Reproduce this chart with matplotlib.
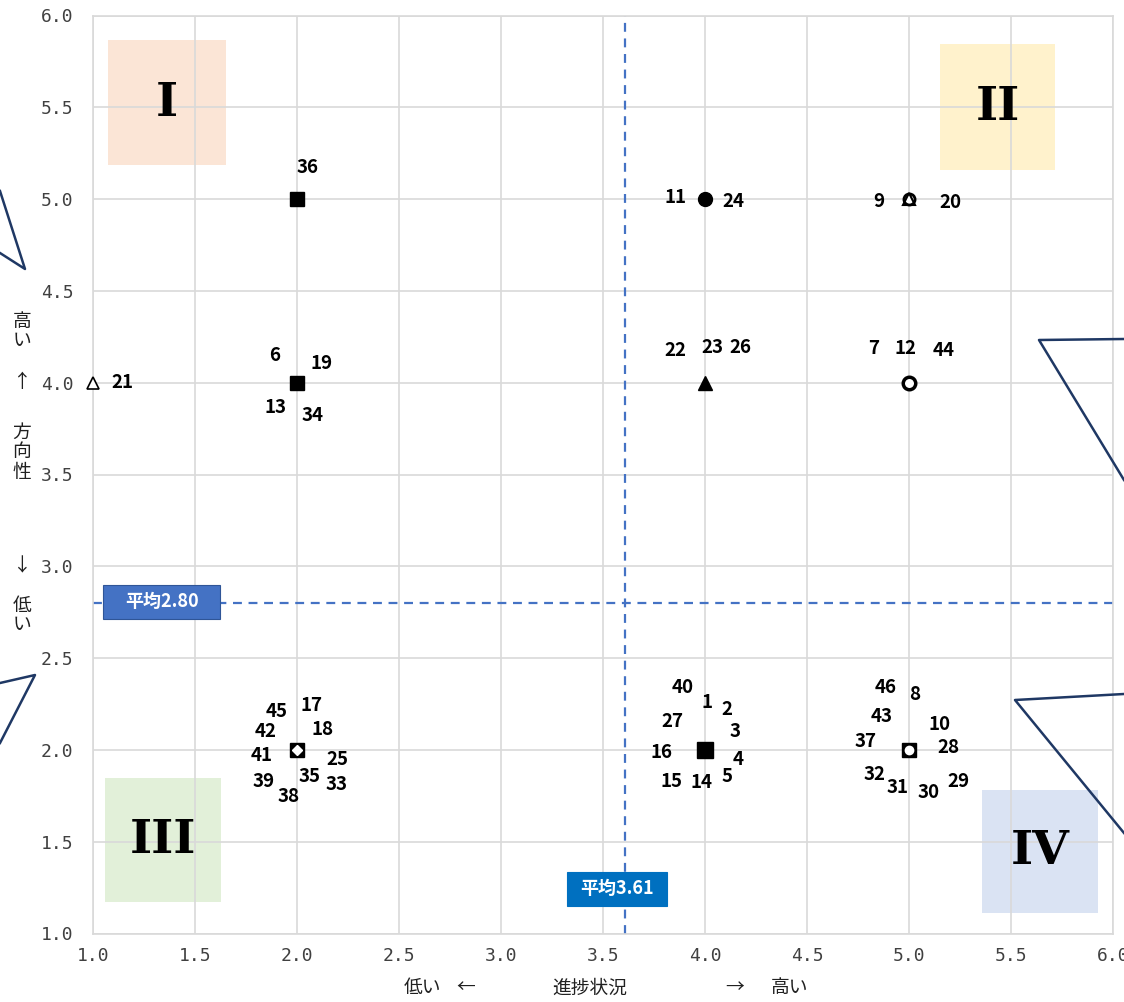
import matplotlib
matplotlib.use("Agg")
import matplotlib.pyplot as plt
from matplotlib.patches import Rectangle
from matplotlib.lines import Line2D

plt.rcParams['font.family'] = ['Noto Sans CJK JP', 'DejaVu Sans']

# --------------- データ ---------------
ids = [36, 6, 19, 13, 34, 21, 11, 24, 9, 20, 22, 23, 26, 7, 12, 44,
       45, 17, 42, 18, 41, 25, 39, 35, 33, 38,
       40, 1, 2, 27, 3, 16, 4, 15, 14, 5,
       46, 8, 43, 10, 37, 28, 32, 31, 30, 29]
progress = [2, 2, 2, 2, 2, 1, 4, 4, 5, 5, 4, 4, 4, 5, 5, 5,
            2, 2, 2, 2, 2, 2, 2, 2, 2, 2,
            4, 4, 4, 4, 4, 4, 4, 4, 4, 4,
            5, 5, 5, 5, 5, 5, 5, 5, 5, 5]
direction = [5, 4, 4, 4, 4, 4, 5, 5, 5, 5, 4, 4, 4, 4, 4, 4,
             2, 2, 2, 2, 2, 2, 2, 2, 2, 2,
             2, 2, 2, 2, 2, 2, 2, 2, 2, 2,
             2, 2, 2, 2, 2, 2, 2, 2, 2, 2]
mean_x = 3.61
mean_y = 2.80
x_ticks = [1.0, 1.5, 2.0, 2.5, 3.0, 3.5, 4.0, 4.5, 5.0, 5.5, 6.0]
y_ticks = [1.0, 1.5, 2.0, 2.5, 3.0, 3.5, 4.0, 4.5, 5.0, 5.5, 6.0]

# ラベル位置（点からのピクセルオフセット）
label_offsets = {
    36: (11, -32), 6: (-22, -27), 19: (25, -19), 13: (-22, 25), 34: (16, 33),
    21: (29, 0), 11: (-29, -2), 24: (28, 2), 9: (-30, 2), 20: (41, 3),
    22: (-30, -32), 23: (7, -35), 26: (35, -35),
    7: (-35, -34), 12: (-4, -34), 44: (35, -32),
    45: (-20, -38), 17: (15, -44), 42: (-31, -18), 18: (26, -20), 41: (-35, 6),
    25: (40, 10), 39: (-33, 32), 35: (13, 27), 33: (40, 35), 38: (-8, 47),
    40: (-22, -62), 1: (2, -47), 2: (22, -40), 27: (-33, -28), 3: (30, -18),
    16: (-43, 3), 4: (33, 10), 15: (-34, 32), 14: (-3, 33), 5: (22, 27),
    46: (-23, -62), 8: (6, -55), 43: (-27, -33), 10: (31, -25), 37: (-43, -8),
    28: (39, -2), 32: (-34, 25), 31: (-11, 38), 30: (20, 43), 29: (49, 32),
}

# マーカー（重なった点の見た目）
marker_styles = {
    (2, 5): [dict(marker="s", ms=10, mfc="black", mec="black")],
    (2, 4): [dict(marker="s", ms=10, mfc="black", mec="black")],
    (1, 4): [dict(marker="^", ms=9, mfc="white", mec="black", mew=1.2)],
    (4, 5): [dict(marker="o", ms=10, mfc="black", mec="black")],
    (5, 5): [dict(marker="o", ms=8, mfc="white", mec="black", mew=2),
             dict(marker="^", ms=8, mfc="none", mec="black", mew=1.5)],
    (4, 4): [dict(marker="^", ms=10, mfc="black", mec="black")],
    (5, 4): [dict(marker="o", ms=9, mfc="white", mec="black", mew=2.5)],
    (2, 2): [dict(marker="s", ms=10, mfc="black", mec="black"),
             dict(marker="D", ms=5, mfc="white", mec="white")],
    (4, 2): [dict(marker="s", ms=11, mfc="black", mec="black")],
    (5, 2): [dict(marker="s", ms=10, mfc="black", mec="black"),
             dict(marker="o", ms=6, mfc="white", mec="white")],
}

W, H = 1124, 1002
fig = plt.figure(figsize=(W / 100, H / 100), dpi=100)
ax = fig.add_axes([93 / W, 1 - 933.5 / H, 1020 / W, 918 / H])

ax.set_xlim(1.0, 6.0)
ax.set_ylim(1.0, 6.0)
ax.set_xticks(x_ticks)
ax.set_yticks(y_ticks)
ax.set_xticklabels(["%.1f" % v for v in x_ticks], family="DejaVu Sans Mono",
                   fontsize=13, color="#404040")
ax.set_yticklabels(["%.1f" % v for v in y_ticks], family="DejaVu Sans Mono",
                   fontsize=13, color="#404040")
ax.tick_params(axis="x", length=0, pad=10)
ax.tick_params(axis="y", length=0, pad=14)
ax.grid(color="#D9D9D9", linewidth=1.2)
ax.set_axisbelow(True)
for s in ax.spines.values():
    s.set_color("#D9D9D9")
    s.set_linewidth(1.2)

# 象限ボックス
quad = [("I", 1.074, 5.185, 0.578, 0.681, "#FBE5D6"),
        ("II", 5.152, 5.158, 0.564, 0.687, "#FFF2CC"),
        ("III", 1.059, 1.172, 0.568, 0.676, "#E2F0D9"),
        ("IV", 5.358, 1.112, 0.568, 0.671, "#DAE3F3")]
for name, qx, qy, qw, qh, qc in quad:
    ax.add_patch(Rectangle((qx, qy), qw, qh, facecolor=qc, edgecolor="none", zorder=0.5))
    ax.text(qx + qw / 2, qy + qh / 2, name, family="DejaVu Serif", weight="heavy",
            fontsize=34, ha="center", va="center", zorder=1)

# 平均線
ax.axvline(mean_x, color="#4472C4", linestyle=(0, (4, 3)), linewidth=1.6, zorder=2)
ax.axhline(mean_y, color="#4472C4", linestyle=(0, (4, 3)), linewidth=1.6, zorder=2)

ax.add_patch(Rectangle((1.049, 2.714), 0.574, 0.185, facecolor="#4472C4",
                       edgecolor="#2F5597", lw=0.8, zorder=3))
ax.text(1.336, 2.806, "平均%.2f" % mean_y, color="white", weight="bold", fontsize=13,
        ha="center", va="center", zorder=3.5)
ax.add_patch(Rectangle((3.324, 1.150), 0.490, 0.185, facecolor="#0070C0",
                       edgecolor="#0070C0", lw=0.8, zorder=3))
ax.text(3.569, 1.243, "平均%.2f" % mean_x, color="white", weight="bold", fontsize=13,
        ha="center", va="center", zorder=3.5)

# 散布図
for (px, py), styles in marker_styles.items():
    for st in styles:
        ax.plot([px], [py], linestyle="none", clip_on=False, zorder=4, **st)

for i, px, py in zip(ids, progress, direction):
    dx, dy = label_offsets[i]
    ax.annotate(str(i), (px, py), xytext=(dx, -dy), textcoords="offset pixels",
                ha="center", va="center", fontsize=13.5, weight="bold", zorder=5)

# 軸ラベル
for ch, yy in [("高", 322), ("い", 341), ("↑", 382), ("方", 432), ("向", 452),
               ("性", 473), ("↓", 566), ("低", 606), ("い", 625)]:
    fig.text(22 / W, 1 - yy / H, ch, fontsize=13.5, ha="center", va="center", color="#202020")
for txt, xx in [("低い", 422), ("←", 466), ("進捗状況", 590), ("→", 735), ("高い", 790)]:
    fig.text(xx / W, 1 - 988 / H, txt, fontsize=13.5, ha="center", va="center", color="#202020")

# 吹き出しの線
callouts = [[(0, 191), (25, 269), (0, 253)],
            [(0, 683), (35, 675), (0, 743)],
            [(1124, 339), (1039, 340), (1124, 480)],
            [(1124, 694), (1015, 700), (1124, 833)]]
for pts in callouts:
    fig.add_artist(Line2D([p[0] / W for p in pts], [1 - p[1] / H for p in pts],
                          color="#1F3864", linewidth=1.8, transform=fig.transFigure))

fig.savefig("out.png", dpi=100)
